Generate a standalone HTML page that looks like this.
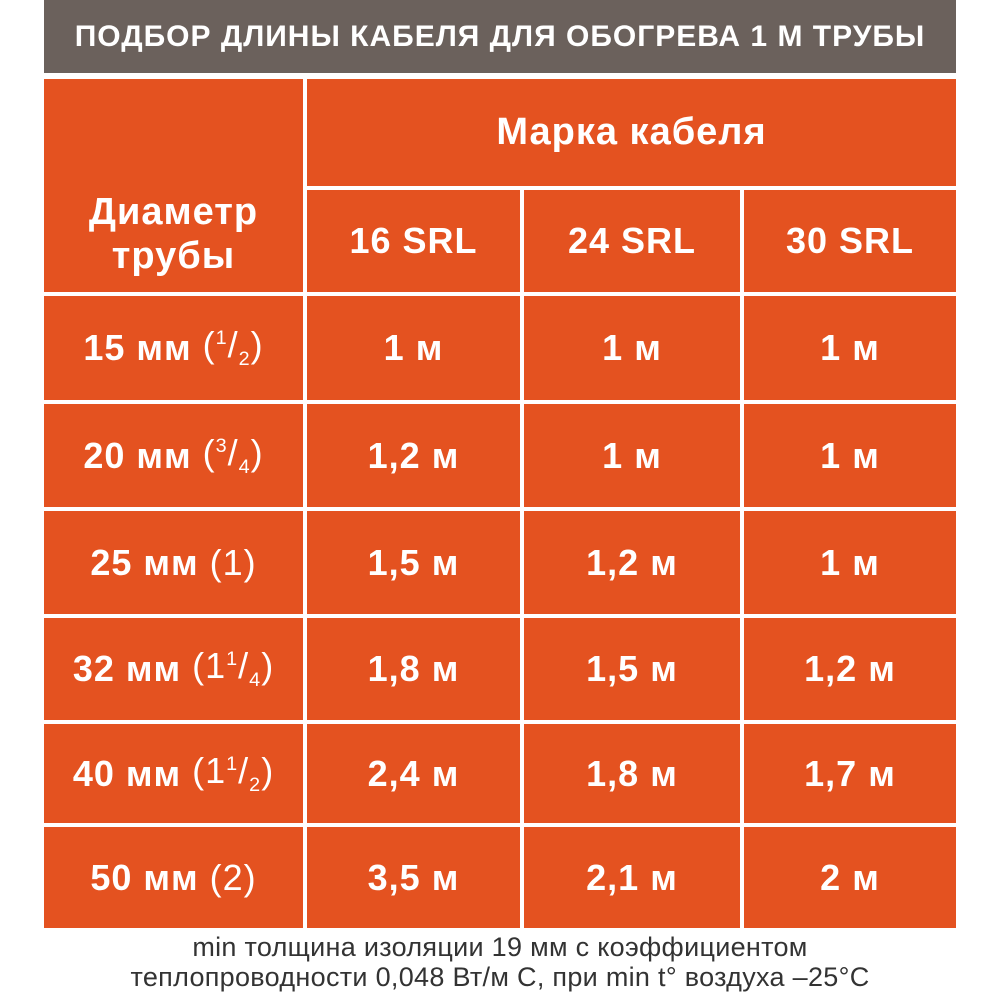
<!DOCTYPE html>
<html><head><meta charset="utf-8"><style>
body{margin:0;width:1000px;height:1000px;background:#fff;position:relative;overflow:hidden;font-family:"Liberation Sans","DejaVu Sans",sans-serif;}
.c{position:absolute;background:#e45220;color:#fff;font-weight:bold;display:flex;align-items:center;justify-content:center;text-align:center;font-size:36px;letter-spacing:1px;}
.hd{position:absolute;left:44px;top:0;width:912px;height:73px;background:#6b615c;color:#fff;font-weight:bold;font-size:30px;display:flex;align-items:center;justify-content:center;letter-spacing:1px}
.n{font-weight:normal}
sup,sub{font-size:0.55em}
.ft{position:absolute;left:0;width:1000px;text-align:center;font-size:27px;letter-spacing:0.3px;color:#333;}
</style></head><body>
<div class="hd">ПОДБОР ДЛИНЫ КАБЕЛЯ ДЛЯ ОБОГРЕВА 1 М ТРУБЫ</div>
<div class="c" style="left:44px;top:79px;width:259px;height:213px;line-height:44px;padding-top:96px;box-sizing:border-box;font-size:38px">Диаметр<br>трубы</div>
<div class="c" style="left:307px;top:79px;width:649px;height:107px;font-size:38px">Марка кабеля</div>
<div class="c" style="left:307px;top:190px;width:213px;height:102px">16 SRL</div>
<div class="c" style="left:524px;top:190px;width:216px;height:102px">24 SRL</div>
<div class="c" style="left:744px;top:190px;width:212px;height:102px">30 SRL</div>

<div class="c" style="left:44px;top:296px;width:259px;height:104px">15 мм&nbsp;<span class="n">(<sup>1</sup>/<sub>2</sub>)</span></div>
<div class="c" style="left:307px;top:296px;width:213px;height:104px">1 м</div>
<div class="c" style="left:524px;top:296px;width:216px;height:104px">1 м</div>
<div class="c" style="left:744px;top:296px;width:212px;height:104px">1 м</div>

<div class="c" style="left:44px;top:404px;width:259px;height:103px">20 мм&nbsp;<span class="n">(<sup>3</sup>/<sub>4</sub>)</span></div>
<div class="c" style="left:307px;top:404px;width:213px;height:103px">1,2 м</div>
<div class="c" style="left:524px;top:404px;width:216px;height:103px">1 м</div>
<div class="c" style="left:744px;top:404px;width:212px;height:103px">1 м</div>

<div class="c" style="left:44px;top:511px;width:259px;height:103px">25 мм&nbsp;<span class="n">(1)</span></div>
<div class="c" style="left:307px;top:511px;width:213px;height:103px">1,5 м</div>
<div class="c" style="left:524px;top:511px;width:216px;height:103px">1,2 м</div>
<div class="c" style="left:744px;top:511px;width:212px;height:103px">1 м</div>

<div class="c" style="left:44px;top:618px;width:259px;height:102px">32 мм&nbsp;<span class="n">(1<sup>1</sup>/<sub>4</sub>)</span></div>
<div class="c" style="left:307px;top:618px;width:213px;height:102px">1,8 м</div>
<div class="c" style="left:524px;top:618px;width:216px;height:102px">1,5 м</div>
<div class="c" style="left:744px;top:618px;width:212px;height:102px">1,2 м</div>

<div class="c" style="left:44px;top:724px;width:259px;height:99px">40 мм&nbsp;<span class="n">(1<sup>1</sup>/<sub>2</sub>)</span></div>
<div class="c" style="left:307px;top:724px;width:213px;height:99px">2,4 м</div>
<div class="c" style="left:524px;top:724px;width:216px;height:99px">1,8 м</div>
<div class="c" style="left:744px;top:724px;width:212px;height:99px">1,7 м</div>

<div class="c" style="left:44px;top:827px;width:259px;height:101px">50 мм&nbsp;<span class="n">(2)</span></div>
<div class="c" style="left:307px;top:827px;width:213px;height:101px">3,5 м</div>
<div class="c" style="left:524px;top:827px;width:216px;height:101px">2,1 м</div>
<div class="c" style="left:744px;top:827px;width:212px;height:101px">2 м</div>

<div class="ft" style="top:932px">min толщина изоляции 19 мм с коэффициентом</div>
<div class="ft" style="top:962px">теплопроводности 0,048 Вт/м С, при min t° воздуха –25°C</div>
</body></html>
